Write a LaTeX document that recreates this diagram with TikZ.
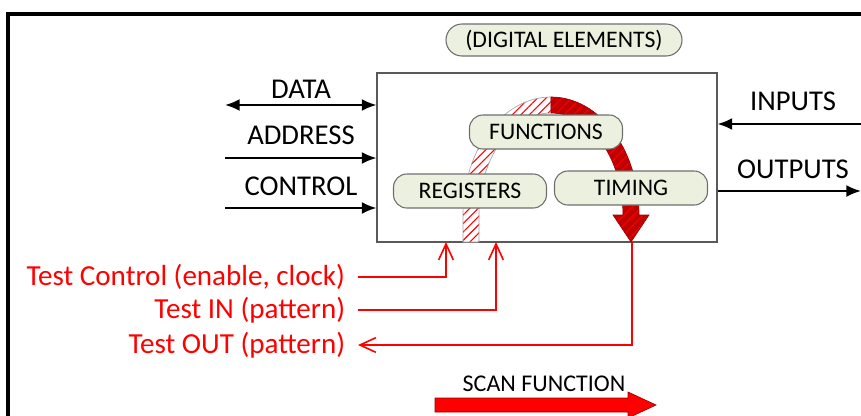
\documentclass[tikz,border=0pt]{standalone}
\usepackage{fontspec}
\setmainfont{Carlito}
\usetikzlibrary{arrows.meta,patterns.meta}
\definecolor{unitfill}{HTML}{EBF1DE}
\definecolor{unitline}{HTML}{6E6E6E}
\definecolor{boxline}{HTML}{595959}
\definecolor{scanred}{HTML}{C00000}
\definecolor{testred}{HTML}{FF0000}

\begin{document}
\begin{tikzpicture}[x=0.75pt,y=-0.75pt,
  bigtext/.style={font=\fontsize{21.5}{24}\selectfont, inner sep=0pt},
  redtext/.style={font=\fontsize{21.8}{24}\selectfont, text=testred,
    inner ysep=0pt, inner xsep=9.5pt, anchor=east},
  unit/.style={draw=unitline, line width=0.8pt, fill=unitfill,
    rounded corners=10pt, minimum width=114.75pt, minimum height=25.5pt,
    inner sep=0pt, font=\fontsize{17.8}{20}\selectfont},
  bus/.style={line width=1.5pt},
  bushead/.style={-{Latex[length=11pt,width=9pt]}},
  testline/.style={testred, line width=1.2pt},
  openhead/.style={-{Straight Barb[length=12pt,width=11pt,line width=1.2pt]}}
]
\useasboundingbox (0,0) rectangle (861,415);
\clip (0,0) rectangle (861,415);

% outer frame
\draw[line width=2.8pt] (8,450) |- (900,14);

% chip outline
\node[draw=boxline, line width=0.8pt, minimum width=255pt,
      minimum height=126.75pt, inner sep=0pt] (chip) at (547,157.5) {};

% scan path: hatched rising half
\path[preaction={fill=white}, pattern={Lines[angle=45,distance=4.5pt,line width=0.8pt]},
      pattern color=testred, draw=gray!70, line width=0.5pt]
  (463,242) -- (463,215)
  arc[start angle=180, end angle=270, x radius=88, y radius=118]
  -- (551,113)
  arc[start angle=270, end angle=180, x radius=72, y radius=102]
  -- (479,242) -- cycle;

% scan path: solid falling half with arrow head
\path[preaction={fill=scanred}, pattern={Lines[angle=45,distance=5pt,line width=0.8pt]},
      pattern color=testred!85!scanred, draw=scanred!80!black, line width=0.5pt]
  (551,97)
  arc[start angle=270, end angle=360, x radius=88, y radius=118]
  -- (649,215) -- (631,242) -- (613,215) -- (623,215)
  arc[start angle=0, end angle=-90, x radius=72, y radius=102]
  -- cycle;

% blocks
\node[unit, minimum width=177pt, minimum height=24pt, rounded corners=12pt]
  (digital) at (564,40) {(DIGITAL ELEMENTS)};
\node[unit] (functions) at (546,132) {FUNCTIONS};
\node[unit] (registers) at (470,191) {REGISTERS};
\node[unit] (timing) at (631,188) {TIMING};

% bus signals on the left
\node[bigtext] (datalbl) at (301,89) {DATA};
\node[bigtext] (addrlbl) at (301,135) {ADDRESS};
\node[bigtext] (ctrllbl) at (301,186) {CONTROL};
\coordinate (dataL) at (225,105);
\coordinate (addrL) at (225,158);
\coordinate (ctrlL) at (225,208);
\draw[bus, {Latex[length=11pt,width=9pt]}-{Latex[length=11pt,width=9pt]}]
  (dataL) -- (dataL -| chip.west);
\draw[bus, bushead] (addrL) -- (addrL -| chip.west);
\draw[bus, bushead] (ctrlL) -- (ctrlL -| chip.west);

% signals on the right
\node[bigtext] (inlbl) at (793,101) {INPUTS};
\node[bigtext] (outlbl) at (793,169) {OUTPUTS};
\coordinate (inR) at (861,124);
\coordinate (outR) at (861,191);
\draw[bus, bushead] (inR) -- (inR -| chip.east);
\draw[bus, bushead] (outR -| chip.east) -- (outR);

% test access signals
\node[redtext] (tctl) at (358,277) {Test Control (enable, clock)};
\node[redtext] (tin) at (358,310) {Test IN (pattern)};
\node[redtext] (tout) at (358,345) {Test OUT (pattern)};
\coordinate (tctlIn) at (446,242);
\coordinate (tinIn) at (496,242);
\coordinate (toutSrc) at (632,242);
\draw[testline, openhead] (tctl.east) -| (tctlIn);
\draw[testline, openhead] (tin.east) -| (tinIn);
\draw[testline, openhead] (toutSrc) |- (tout.east);

% scan function legend
\node[font=\fontsize{18}{20}\selectfont, inner sep=0pt] (scan) at (544,384) {SCAN FUNCTION};
\path[fill=testred, draw=scanred!80!black, line width=0.5pt]
  (435,398) -- (628,398) -- (628,392) -- (656,405) -- (628,418)
  -- (628,412) -- (435,412) -- cycle;
\end{tikzpicture}
\end{document}
